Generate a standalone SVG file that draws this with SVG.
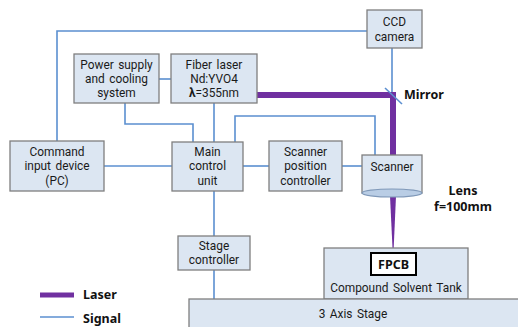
<svg xmlns="http://www.w3.org/2000/svg" width="518" height="327" viewBox="0 0 518 327">
<style>
.box{fill:#dce6f2;stroke:#7f7f7f;stroke-width:1.3}
.sig{fill:none;stroke:#5b8fd0;stroke-width:1.6}
.las{fill:none;stroke:#7030a0;stroke-width:6}
text{font-family:Roboto,"Noto Sans CJK KR",sans-serif;font-size:11.9px;fill:#1a1a1a;text-anchor:middle;word-spacing:1.5px}
.b{font-family:"Noto Sans","Noto Sans CJK KR",sans-serif;font-weight:bold;font-size:12.5px;fill:#111;word-spacing:0}
</style>
<rect width="518" height="327" fill="#fff"/>
<g id="connectors">
<polyline class="sig" points="57,141 57,31 367,31"/>
<line class="sig" x1="159" y1="79" x2="171" y2="79"/>
<polyline class="sig" points="125,103 125,124 193,124 193,142"/>
<line class="sig" x1="214" y1="103" x2="214" y2="142"/>
<polyline class="sig" points="235,142 235,116 375,116 375,155"/>
<line class="sig" x1="392" y1="48" x2="392" y2="92"/>
<line class="sig" x1="104" y1="166" x2="172" y2="166"/>
<line class="sig" x1="243" y1="166" x2="269" y2="166"/>
<line class="sig" x1="342" y1="166" x2="362" y2="166"/>
<line class="sig" x1="214" y1="191" x2="214" y2="236"/>
<line class="sig" x1="214" y1="270" x2="214" y2="299"/>
<polyline class="las" points="257,95 393,95 393,155"/>
<polygon points="390,196 396,196 393.6,250 392.6,250" fill="#7030a0"/>
<line x1="385" y1="88" x2="402" y2="104" stroke="#5b8fd0" stroke-width="1.6"/>
</g>
<g id="ccd"><rect class="box" x="367" y="10" width="55" height="38"/><text x="394.5" y="26">CCD</text><text x="394.5" y="41">camera</text></g>
<g id="power"><rect class="box" x="74" y="54" width="85" height="49"/><text x="116.5" y="69">Power supply</text><text x="116.5" y="83">and cooling</text><text x="116.5" y="97">system</text></g>
<g id="fiber"><rect class="box" x="171" y="54" width="86" height="49"/><text x="214" y="69">Fiber laser</text><text x="214" y="83">Nd:YVO4</text><text x="214" y="97"><tspan font-weight="bold">λ</tspan>=355nm</text></g>
<g id="command"><rect class="box" x="10" y="141" width="94" height="50"/><text x="57" y="156">Command</text><text x="57" y="170">input device</text><text x="57" y="185">(PC)</text></g>
<g id="main"><rect class="box" x="172" y="142" width="71" height="49"/><text x="207.5" y="156">Main</text><text x="207.5" y="170">control</text><text x="207.5" y="185">unit</text></g>
<g id="scanpos"><rect class="box" x="269" y="141" width="73" height="50"/><text x="305.5" y="156">Scanner</text><text x="305.5" y="170">position</text><text x="305.5" y="185">controller</text></g>
<g id="scanner"><rect class="box" x="362" y="155" width="60" height="38"/><ellipse cx="392" cy="193" rx="30" ry="4" fill="#b9cde5" stroke="#7f98b8" stroke-width="1.2"/><text x="392" y="171">Scanner</text></g>
<g id="stagectl"><rect class="box" x="178" y="236" width="72" height="34"/><text x="214" y="250">Stage</text><text x="214" y="264">controller</text></g>
<g id="tank"><rect class="box" x="324" y="248" width="144" height="51"/><rect x="371" y="253" width="45" height="22" fill="#fff" stroke="#000" stroke-width="2"/><text class="b" x="393.5" y="269">FPCB</text><text x="396" y="292">Compound Solvent Tank</text></g>
<g id="stage"><rect class="box" x="189" y="299" width="335" height="35"/><text x="353" y="318">3 Axis Stage</text></g>
<g id="labels">
<text class="b" x="404" y="99" style="text-anchor:start">Mirror</text>
<text class="b" x="463" y="195">Lens</text>
<text class="b" x="463" y="211">f=100mm</text>
</g>
<g id="legend">
<line x1="40" y1="295" x2="74" y2="295" stroke="#7030a0" stroke-width="5"/>
<line x1="40" y1="317" x2="74" y2="317" stroke="#5b8fd0" stroke-width="1.6"/>
<text class="b" x="83" y="299" style="text-anchor:start">Laser</text>
<text class="b" x="83" y="323" style="text-anchor:start">Signal</text>
</g>
</svg>
